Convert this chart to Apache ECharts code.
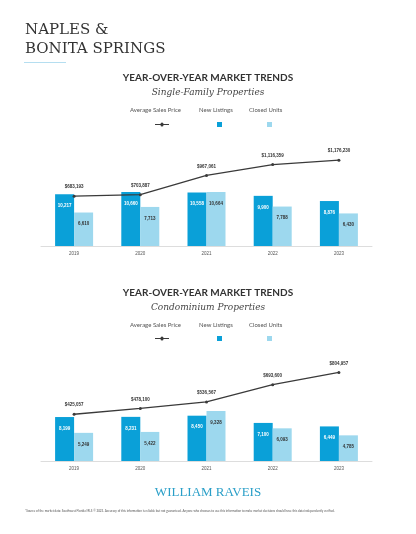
<!DOCTYPE html>
<html>
<head>
<meta charset="utf-8">
<script src="https://cdn.jsdelivr.net/npm/echarts@6/dist/echarts.min.js"></script>
<style>html,body{margin:0;padding:0;background:#fff}#chart{width:416px;height:534px}</style>
</head>
<body>
<div id="chart"></div>
<script>
var years = ['2019', '2020', '2021', '2022', '2023'];
// single-family
var sfNewListings = [10217, 10660, 10558, 9900, 8876];
var sfClosedUnits = [6610, 7713, 10664, 7788, 6430];
var sfAvgPrice = [683193, 703887, 967061, 1116359, 1176230];
// condo
var coNewListings = [8199, 8231, 8450, 7100, 6449];
var coClosedUnits = [5249, 5422, 9328, 6093, 4785];
var coAvgPrice = [425057, 478100, 536567, 693600, 804957];

var dark = '#3a3a3a', blue = '#0aa0d8', light = '#9dd8ee';
var lineIcon = 'path://M0,4L5.5,4A1.5,1.5,0,0,1,8.5,4L14,4L14,5L8.5,5A1.5,1.5,0,0,1,5.5,5L0,5Z';
var myChart = echarts.init(document.getElementById('chart'));

function fmtNum(p) { return p.value.toLocaleString('en-US'); }
function fmtPrice(p) { return '$' + p.value.toLocaleString('en-US'); }

function legendTexts(y) {
	return [
		{ type: 'text', left: 130, top: y, style: { text: 'Average Sales Price', fill: '#555', font: '6px Lato' } },
		{ type: 'text', left: 199, top: y, style: { text: 'New Listings', fill: '#555', font: '6px Lato' } },
		{ type: 'text', left: 249, top: y, style: { text: 'Closed Units', fill: '#555', font: '6px Lato' } }
	];
}
function legends(top) {
	return [
		{ left: 150, top: top - 2, itemWidth: 14, itemHeight: 9, formatter: function () { return ''; }, selectedMode: false,
			data: [{ name: 'Average Sales Price', icon: lineIcon, itemStyle: { color: dark } }] },
		{ left: 212, top: top, itemWidth: 5, itemHeight: 5, formatter: function () { return ''; }, itemGap: 45, selectedMode: false,
			data: [{ name: 'New Listings', icon: 'rect' }, { name: 'Closed Units', icon: 'rect' }] }
	];
}

function barSeries(data, color, labelColor, xi) {
	return {
		type: 'bar', data: data, xAxisIndex: xi, yAxisIndex: xi * 2, barWidth: 19, barGap: '0%',
		itemStyle: { color: color },
		label: { show: true, position: 'insideTop', color: labelColor, fontSize: 4.5, fontWeight: 'bold', formatter: fmtNum, offset: [0, 4] },
		silent: true
	};
}

function lineSeries(data, xi) {
	return {
		type: 'line', data: data, xAxisIndex: xi, yAxisIndex: xi * 2 + 1,
		symbol: 'circle', symbolSize: 3, lineStyle: { color: dark, width: 1.3 }, itemStyle: { color: dark },
		label: { show: true, position: 'top', color: '#333', fontSize: 4.5, fontWeight: 'bold', formatter: fmtPrice },
		z: 5
	};
}

var xBase = {
	type: 'category', data: years,
	axisLine: { lineStyle: { color: '#ddd' } }, axisTick: { show: false },
	axisLabel: { fontSize: 4.5, color: '#555', margin: 5 }
};
function yAx(gi, max) {
	return { type: 'value', gridIndex: gi, min: 0, max: max, show: false };
}

option = {
	backgroundColor: '#fff',
	animation: false,
	grid: [
		{ left: 41, right: 44, top: 130, height: 116 },
		{ left: 41, right: 44, top: 350, height: 111 }
	],
	xAxis: [
		Object.assign({ gridIndex: 0 }, xBase),
		Object.assign({ gridIndex: 1 }, xBase)
	],
	yAxis: [yAx(0, 22900), yAx(0, 1590000), yAx(1, 20700), yAx(1, 1009000)],
	legend: legends(117).concat(legends(331)),
	series: [
		Object.assign(lineSeries(sfAvgPrice, 0), { name: 'Average Sales Price' }),
		Object.assign(barSeries(sfNewListings, blue, '#fff', 0), { name: 'New Listings' }),
		Object.assign(barSeries(sfClosedUnits, light, '#333', 0), { name: 'Closed Units' }),
		lineSeries(coAvgPrice, 1),
		barSeries(coNewListings, blue, '#fff', 1),
		barSeries(coClosedUnits, light, '#333', 1)
	],
	graphic: [
		{ type: 'text', left: 25, top: 21, style: { text: 'NAPLES &\nBONITA SPRINGS', fill: '#333', font: '15px "DejaVu Serif"', lineHeight: 19, letterSpacing: 1.5 } },
		{ type: 'rect', left: 24, top: 62, shape: { width: 42, height: 1 }, style: { fill: '#b5def0' } },
		{ type: 'text', left: 'center', top: 73, style: { text: 'YEAR-OVER-YEAR MARKET TRENDS', fill: '#333', font: 'bold 10px Lato', letterSpacing: 1 } },
		{ type: 'text', left: 'center', top: 88, style: { text: 'Single-Family Properties', fill: '#444', font: 'italic 9px "DejaVu Serif"' } },
		{ type: 'text', left: 'center', top: 288, style: { text: 'YEAR-OVER-YEAR MARKET TRENDS', fill: '#333', font: 'bold 10px Lato', letterSpacing: 1 } },
		{ type: 'text', left: 'center', top: 303, style: { text: 'Condominium Properties', fill: '#444', font: 'italic 9px "DejaVu Serif"' } },
		{ type: 'text', left: 'center', top: 486, style: { text: 'WILLIAM RAVEIS', fill: '#2a9fc8', font: '13px "Liberation Serif"' } },
		{ type: 'text', left: 25, top: 510, style: { text: '*Source of the market data: Southwest Florida MLS © 2023. Accuracy of this information is reliable but not guaranteed. Anyone who chooses to use this information to make market decisions should have this data independently verified.', fill: '#555', font: '3px Lato' } }
	].concat(legendTexts(107)).concat(legendTexts(322))
};

myChart.setOption(option);
window.addEventListener('resize', function () { myChart.resize(); });
</script>
</body>
</html>
